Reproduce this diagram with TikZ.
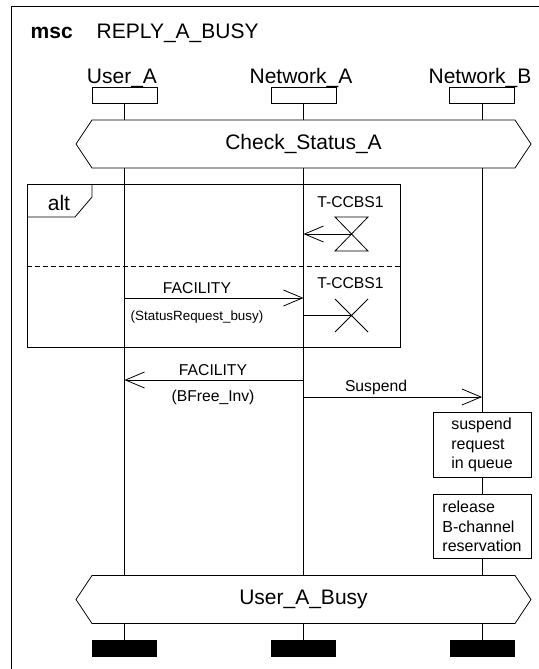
\documentclass[tikz,border=0pt]{standalone}
\usepackage{fontspec}
\setmainfont{Liberation Sans}
\usetikzlibrary{arrows.meta,shapes.symbols}

\begin{document}
\begin{tikzpicture}[x=1pt,y=-1pt,line width=.8pt,
    big/.style={font=\fontsize{21}{25}\selectfont},
    small/.style={font=\fontsize{15.7}{19}\selectfont},
    head/.style={draw,minimum width=65pt,minimum height=15.5pt,inner sep=0pt},
    tail/.style={fill=black,minimum width=65pt,minimum height=17pt,inner sep=0pt},
    cond/.style={draw,signal,signal to=west and east,signal pointer angle=112.6,
      minimum width=455pt,minimum height=48pt,inner sep=0pt,big},
    act/.style={draw,minimum width=98pt,minimum height=64.5pt,inner sep=0pt,
      align=left,font=\fontsize{16}{19.5}\selectfont},
    msg/.style={-{Straight Barb[length=19pt,width=16pt]}}]
    \useasboundingbox (0,0) rectangle (538,669);
    \draw (11,672) -- (11,6) -- (541,6);
    \node[anchor=base west,font=\fontsize{21}{25}\selectfont\bfseries] (msc) at (27,38) {msc};
    \node[big,anchor=base west] (title) at (93,38) {REPLY\_A\_BUSY};
    % instances
    \node[head] (ua) at (124.5,95.5) {};
    \node[head] (na) at (303.5,95.5) {};
    \node[head] (nb) at (482,95.5) {};
    \node[big,anchor=base] (uaname) at (122,83.5) {User\_A};
    \node[big,anchor=base] (naname) at (301,83.5) {Network\_A};
    \node[big,anchor=base] (nbname) at (480,83.5) {Network\_B};
    \node[cond] (check) at (303.5,144) {Check\_Status\_A};
    \node[cond] (busy) at (303.5,599.5) {User\_A\_Busy};
    \node[act] (queue) at (482,445) {suspend\\request\\in queue};
    \node[act] (release) at (482,526.5) {release\\B-channel\\reservation};
    \node[tail] (uaend) at (124.5,648.5) {};
    \node[tail] (naend) at (303.5,648.5) {};
    \node[tail] (nbend) at (482,648.5) {};
    % lifelines
    \draw (ua) -- (ua |- check.north) (ua |- check.south) -- (ua |- busy.north)
      (ua |- busy.south) -- (uaend);
    \draw (na) -- (na |- check.north) (na |- check.south) -- (na |- busy.north)
      (na |- busy.south) -- (naend);
    \draw (nb) -- (nb |- check.north) (nb |- check.south) -- (queue)
      (queue) -- (release) (release) -- (nb |- busy.north)
      (nb |- busy.south) -- (nbend);
    % alt
    \node[draw,minimum width=373pt,minimum height=163pt,inner sep=0pt] (alt) at (213.5,265.5) {};
    \draw (92,184) -- (92,197) -- (75,217) -- (27,217);
    \node[big,anchor=base] (altname) at (59,210) {alt};
    \draw[dashed,dash pattern=on 5pt off 3pt] (alt.west |- 0,266) -- (alt.east |- 0,266);
    \coordinate (t1) at (351.5,234);
    \node[small,anchor=base] (t1name) at (350.5,207) {T-CCBS1};
    \draw (t1) ++(-16.5,-17) -- ++(33,0) -- ++(-33,34) -- ++(33,0) -- cycle;
    \draw[msg] (t1) -- (t1 -| na);
    \coordinate (t2) at (351.5,315.5);
    \node[small,anchor=base] (t2name) at (350.5,288) {T-CCBS1};
    \draw (t2) ++(-16.5,-16.5) -- ++(33,33) (t2) ++(16.5,-16.5) -- ++(-33,33);
    \draw (t2 -| na) -- (t2);
    % messages
    \draw[msg] (ua |- 0,298) -- (na |- 0,298);
    \node[small,anchor=base] (fac1) at (197,293) {FACILITY};
    \node[anchor=base,font=\fontsize{13.4}{16}\selectfont] (fac1par) at (197,320) {(StatusRequest\_busy)};
    \draw[msg] (na |- 0,380) -- (ua |- 0,380);
    \node[small,anchor=base] (fac2) at (213,375) {FACILITY};
    \node[small,anchor=base] (fac2par) at (213,401) {(BFree\_Inv)};
    \draw[msg] (na |- 0,397) -- (nb |- 0,397);
    \node[small,anchor=base] (susp) at (376,391) {Suspend};
\end{tikzpicture}
\end{document}
